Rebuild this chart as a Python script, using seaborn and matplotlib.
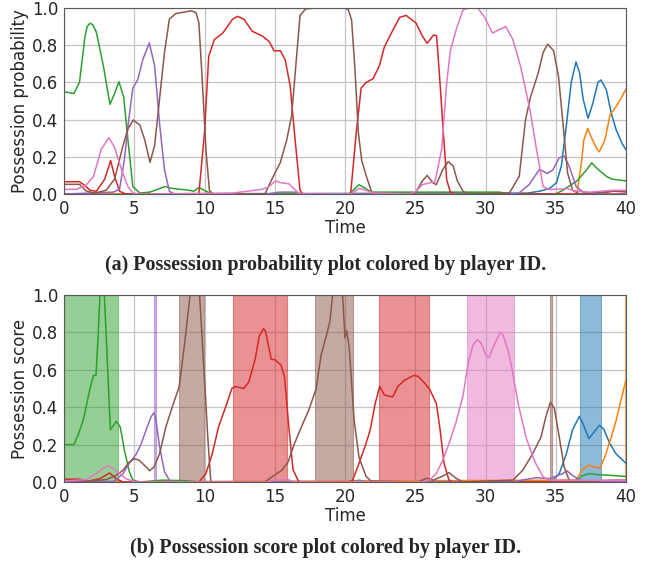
import matplotlib
matplotlib.use("Agg")
import matplotlib.pyplot as plt
import pandas as pd
import seaborn as sns

# ---------------- data: (a) possession probability ----------------
prob_blue_t = [0, 33.0, 33.85, 34.55, 35.05, 35.4, 35.75, 36.1, 36.44, 36.7, 36.95, 37.3, 37.65, 38.0, 38.22, 38.6, 38.95, 39.3, 39.7, 40]
prob_blue_v = [0, 0.005, 0.015, 0.03, 0.06, 0.15, 0.365, 0.6, 0.71, 0.65, 0.51, 0.407, 0.49, 0.6, 0.613, 0.56, 0.435, 0.345, 0.275, 0.237]

prob_orange_t = [0, 36.5, 36.8, 37.0, 37.27, 37.5, 37.9, 38.1, 38.5, 38.86, 39.3, 40]
prob_orange_v = [0, 0, 0.15, 0.29, 0.353, 0.31, 0.245, 0.227, 0.29, 0.425, 0.47, 0.563]

prob_green_t = [0, 0.7, 1.1, 1.5, 1.65, 1.85, 2.05, 2.3, 2.8, 3.27, 3.6, 3.91, 4.25, 4.55, 4.9, 5.4, 6.1, 7.2, 7.7, 8.9, 9.25, 9.6, 10.1, 10.6, 20.3, 21.0, 21.9, 31.0, 31.7, 35.0, 35.5, 36.5, 37.2, 37.56, 37.9, 38.6, 39.0, 40]
prob_green_v = [0.55, 0.54, 0.6, 0.85, 0.9, 0.918, 0.91, 0.87, 0.69, 0.482, 0.54, 0.604, 0.52, 0.29, 0.04, 0.005, 0.01, 0.04, 0.03, 0.02, 0.015, 0.035, 0.015, 0, 0, 0.05, 0.01, 0.01, 0, 0, 0.02, 0.07, 0.13, 0.168, 0.14, 0.095, 0.08, 0.07]

prob_red_t = [0, 1.1, 1.5, 1.85, 2.3, 2.9, 3.32, 3.6, 3.95, 4.4, 9.6, 10.0, 10.3, 10.7, 11.3, 12.0, 12.35, 12.8, 13.4, 14.1, 14.6, 14.95, 15.4, 15.75, 16.1, 16.45, 16.8, 17.0, 20.4, 20.8, 21.15, 21.5, 22.0, 22.45, 22.8, 23.4, 23.9, 24.35, 25.05, 25.5, 25.85, 26.3, 26.52, 26.76, 27.0, 27.24, 27.5, 27.9, 40]
prob_red_v = [0.066, 0.066, 0.045, 0.02, 0.015, 0.08, 0.18, 0.095, 0.015, 0, 0, 0.33, 0.74, 0.83, 0.865, 0.94, 0.955, 0.94, 0.875, 0.85, 0.82, 0.77, 0.77, 0.72, 0.58, 0.29, 0.02, 0, 0, 0.33, 0.57, 0.6, 0.62, 0.69, 0.79, 0.88, 0.95, 0.96, 0.92, 0.85, 0.81, 0.855, 0.85, 0.6, 0.33, 0.075, 0.01, 0, 0]

prob_purple_t = [0, 3.5, 3.95, 4.3, 4.55, 4.9, 5.25, 5.6, 6.07, 6.45, 6.8, 7.15, 7.5, 7.85, 14.5, 15.3, 16.5, 17.0, 32.3, 33.1, 33.85, 34.4, 34.8, 35.25, 35.6, 35.95, 36.45, 36.95, 37.9, 39.1, 40]
prob_purple_v = [0, 0.01, 0.025, 0.185, 0.365, 0.57, 0.615, 0.72, 0.813, 0.69, 0.38, 0.13, 0.015, 0, 0, 0.01, 0.01, 0, 0, 0.05, 0.133, 0.11, 0.13, 0.195, 0.204, 0.15, 0.04, 0.01, 0, 0.015, 0.01]

prob_brown_t = [0, 1.1, 1.6, 2.2, 3.0, 3.6, 4.2, 4.55, 4.93, 5.4, 5.75, 6.12, 6.45, 6.8, 7.15, 7.5, 7.95, 8.7, 9.05, 9.4, 9.6, 9.85, 10.1, 10.35, 10.6, 14.3, 14.8, 15.4, 15.85, 16.2, 16.5, 16.8, 17.2, 17.9, 20.0, 20.24, 20.47, 20.7, 20.95, 21.19, 21.54, 21.9, 22.1, 24.6, 25.05, 25.5, 25.85, 26.25, 26.5, 26.95, 27.35, 27.7, 28.0, 28.4, 28.75, 31.7, 32.4, 32.85, 33.2, 33.75, 34.1, 34.42, 34.85, 35.2, 35.55, 35.85, 36.2, 36.7, 39.1, 40]
prob_brown_v = [0.052, 0.052, 0.015, 0.005, 0.02, 0.08, 0.26, 0.35, 0.398, 0.37, 0.29, 0.17, 0.26, 0.51, 0.76, 0.94, 0.97, 0.98, 0.985, 0.975, 0.92, 0.6, 0.24, 0.02, 0, 0, 0.08, 0.17, 0.29, 0.42, 0.69, 0.96, 0.995, 1.0, 1.0, 0.99, 0.935, 0.68, 0.33, 0.18, 0.09, 0.01, 0, 0, 0.01, 0.07, 0.1, 0.06, 0.05, 0.13, 0.175, 0.15, 0.07, 0.015, 0, 0.005, 0.095, 0.4, 0.52, 0.65, 0.76, 0.806, 0.77, 0.63, 0.35, 0.11, 0.02, 0, 0.015, 0.015]

prob_pink_t = [0, 0.9, 1.6, 2.1, 2.65, 3.2, 3.6, 4.1, 4.55, 4.9, 5.4, 12.0, 14.1, 14.6, 15.05, 15.5, 16.0, 16.35, 16.7, 17.0, 20.4, 21.0, 21.5, 22.0, 24.6, 25.05, 25.5, 26.0, 26.4, 26.88, 27.24, 27.5, 27.9, 28.4, 28.85, 29.45, 29.9, 30.5, 31.0, 31.45, 31.95, 32.5, 33.17, 33.64, 34.1, 34.5, 35.05, 35.75, 36.45, 37.4, 39.1, 40]
prob_pink_v = [0.025, 0.025, 0.05, 0.095, 0.24, 0.303, 0.25, 0.13, 0.04, 0.005, 0, 0.005, 0.025, 0.04, 0.07, 0.06, 0.055, 0.03, 0.005, 0, 0, 0.03, 0.02, 0.005, 0, 0.015, 0.05, 0.06, 0.065, 0.24, 0.6, 0.77, 0.88, 0.99, 1.0, 1.0, 0.955, 0.865, 0.885, 0.9, 0.83, 0.685, 0.45, 0.236, 0.04, 0.025, 0.025, 0.03, 0.015, 0.01, 0.02, 0.02]

# ---------------- data: (b) possession score ----------------
score_blue_t = [0, 34.5, 34.8, 35.25, 35.75, 36.2, 36.68, 36.95, 37.35, 37.65, 38.1, 38.4, 38.85, 39.3, 40]
score_blue_v = [0, 0, 0.01, 0.045, 0.15, 0.28, 0.351, 0.31, 0.232, 0.26, 0.303, 0.285, 0.205, 0.15, 0.1]

score_orange_t = [0, 36.45, 36.95, 37.37, 37.75, 38.15, 38.5, 38.95, 39.3, 39.65, 40]
score_orange_v = [0, 0.01, 0.07, 0.09, 0.08, 0.075, 0.135, 0.24, 0.33, 0.44, 0.547]

score_green_t = [0, 0.7, 1.0, 1.4, 1.85, 2.1, 2.28, 2.44, 2.56, 2.72, 2.87, 3.04, 3.3, 3.5, 3.72, 4.0, 4.3, 4.65, 4.9, 5.4, 7.0, 8.7, 9.6, 20.5, 21.0, 21.5, 36.0, 36.45, 36.95, 37.4, 37.9, 40]
score_green_v = [0.2, 0.2, 0.25, 0.34, 0.5, 0.57, 0.57, 0.8, 1.0, 1.1, 1.0, 0.72, 0.28, 0.3, 0.325, 0.295, 0.17, 0.055, 0.01, 0, 0.01, 0.007, 0, 0, 0.01, 0, 0, 0.01, 0.035, 0.045, 0.04, 0.03]

score_red_t = [0, 1.1, 1.7, 2.55, 3.25, 3.7, 4.2, 9.6, 10.1, 10.55, 11.0, 11.5, 11.95, 12.2, 12.8, 13.15, 13.6, 13.9, 14.2, 14.35, 14.75, 15.0, 15.45, 15.7, 15.97, 16.3, 16.65, 16.8, 20.3, 20.55, 21.0, 21.45, 21.8, 22.15, 22.47, 22.8, 23.4, 23.75, 24.25, 24.9, 25.2, 25.65, 26.03, 26.5, 26.75, 27.05, 27.4, 27.65, 40]
score_red_v = [0.015, 0.015, 0.004, 0.018, 0.048, 0.018, 0, 0, 0.045, 0.15, 0.295, 0.4, 0.5, 0.51, 0.5, 0.535, 0.655, 0.78, 0.82, 0.805, 0.655, 0.655, 0.625, 0.56, 0.32, 0.066, 0.01, 0, 0, 0.01, 0.1, 0.195, 0.28, 0.42, 0.512, 0.465, 0.455, 0.51, 0.545, 0.57, 0.565, 0.53, 0.495, 0.42, 0.29, 0.1, 0.01, 0, 0]

score_purple_t = [0, 3.5, 3.7, 4.2, 4.65, 5.15, 5.5, 5.85, 6.2, 6.4, 6.55, 6.8, 7.15, 7.5, 7.7, 32.0, 32.6, 33.6, 34.55, 35.5, 35.8, 36.2, 36.7, 37.2, 40]
score_purple_v = [0.003, 0.003, 0.01, 0.045, 0.1, 0.15, 0.205, 0.28, 0.35, 0.37, 0.33, 0.19, 0.055, 0.01, 0, 0, 0.01, 0.023, 0.018, 0.045, 0.06, 0.035, 0.01, 0, 0.005]

score_brown_t = [0, 1.6, 3.0, 3.7, 4.2, 4.65, 5.0, 5.35, 5.85, 6.1, 6.4, 6.8, 7.25, 7.7, 8.2, 8.6, 8.97, 9.3, 9.65, 10.0, 10.25, 10.45, 14.3, 14.8, 15.5, 15.95, 16.4, 16.9, 17.45, 17.95, 18.3, 18.7, 18.93, 19.12, 19.45, 19.83, 20.0, 20.12, 20.3, 20.65, 21.0, 21.5, 21.85, 25.2, 25.8, 26.3, 26.9, 27.4, 27.9, 28.4, 31.95, 32.65, 33.35, 33.95, 34.3, 34.62, 34.9, 35.25, 35.6, 35.95, 36.3, 39.0, 40]
score_brown_v = [0.01, 0.004, 0.013, 0.035, 0.063, 0.107, 0.125, 0.116, 0.08, 0.06, 0.08, 0.15, 0.295, 0.4, 0.51, 0.75, 1.0, 1.2, 1.0, 0.55, 0.22, 0, 0, 0.027, 0.063, 0.107, 0.205, 0.295, 0.39, 0.5, 0.68, 0.79, 0.86, 1.0, 1.3, 1.0, 0.77, 0.81, 0.72, 0.33, 0.13, 0.03, 0.005, 0, 0.02, 0.01, 0.03, 0.05, 0.02, 0, 0.01, 0.063, 0.15, 0.24, 0.35, 0.426, 0.395, 0.24, 0.08, 0.01, 0, 0.01, 0.01]

score_pink_t = [0, 1.6, 2.3, 2.8, 3.15, 3.5, 3.95, 4.4, 4.9, 5.4, 14.5, 15.0, 15.95, 16.4, 20.5, 21.0, 21.6, 25.5, 26.0, 26.5, 26.95, 27.45, 27.9, 28.4, 28.75, 29.1, 29.42, 29.7, 30.05, 30.27, 30.65, 31.05, 31.25, 31.6, 31.9, 32.35, 32.9, 33.5, 34.1, 34.55, 40]
score_pink_v = [0.005, 0.013, 0.045, 0.075, 0.086, 0.072, 0.045, 0.018, 0.004, 0, 0, 0.01, 0.013, 0, 0, 0.005, 0, 0, 0.01, 0.045, 0.115, 0.215, 0.32, 0.46, 0.63, 0.73, 0.763, 0.74, 0.675, 0.668, 0.74, 0.8, 0.785, 0.705, 0.6, 0.41, 0.235, 0.11, 0.027, 0.01, 0.008]

# shaded possession intervals in (b)
span_start = [0.0, 6.43, 8.2, 12.0, 17.9, 22.4, 28.7, 34.58, 36.7, 39.95]
span_end = [3.85, 6.58, 9.95, 15.85, 20.6, 26.0, 32.05, 34.76, 38.25, 40.0]
span_player = ["green", "purple", "brown", "red", "brown", "red", "pink", "brown", "blue", "orange"]

players = ["blue", "orange", "green", "red", "purple", "brown", "pink"]
captions = ["(a) Possession probability plot colored by player ID.",
            "(b) Possession score plot colored by player ID."]
ylabels = ["Possession probability", "Possession score"]
xticks = [0, 5, 10, 15, 20, 25, 30, 35, 40]
yticks = [0.0, 0.2, 0.4, 0.6, 0.8, 1.0]

prob_series = [("blue", prob_blue_t, prob_blue_v), ("orange", prob_orange_t, prob_orange_v),
               ("green", prob_green_t, prob_green_v), ("red", prob_red_t, prob_red_v),
               ("purple", prob_purple_t, prob_purple_v), ("brown", prob_brown_t, prob_brown_v),
               ("pink", prob_pink_t, prob_pink_v)]
score_series = [("blue", score_blue_t, score_blue_v), ("orange", score_orange_t, score_orange_v),
                ("green", score_green_t, score_green_v), ("red", score_red_t, score_red_v),
                ("purple", score_purple_t, score_purple_v), ("brown", score_brown_t, score_brown_v),
                ("pink", score_pink_t, score_pink_v)]


def to_long(series):
    return pd.concat([pd.DataFrame({"Time": t, "value": v, "player": p}) for p, t, v in series],
                     ignore_index=True)


df_prob = to_long(prob_series)
df_score = to_long(score_series)

sns.set_style("whitegrid", {"axes.edgecolor": "0.35", "grid.color": "#c4c4c4",
                            "axes.linewidth": 0.9})
plt.rcParams["font.family"] = ["DejaVu Sans"]

tab = sns.color_palette("tab10")
pal = dict(zip(players, tab[:7]))

fig = plt.figure(figsize=(6.62, 5.69), dpi=100)
W, H = 662, 569
ax1 = fig.add_axes([64 / W, 1 - 194 / H, 562 / W, 186 / H])
ax2 = fig.add_axes([64 / W, 1 - 482 / H, 562 / W, 187 / H])

for s0, s1, p in zip(span_start, span_end, span_player):
    ax2.axvspan(s0, s1, color=pal[p], alpha=0.5, lw=0.8, zorder=1)

for ax, df, yl in [(ax1, df_prob, ylabels[0]), (ax2, df_score, ylabels[1])]:
    sns.lineplot(data=df, x="Time", y="value", hue="player", hue_order=players, palette=pal,
                 estimator=None, sort=False, legend=False, lw=1.1, ax=ax, zorder=2)
    ax.set_xlim(0, 40)
    ax.set_ylim(0, 1.0)
    ax.set_xticks(xticks)
    ax.set_yticks(yticks)
    ax.set_yticklabels([f"{v:.1f}" for v in yticks])
    ax.tick_params(labelsize=12, length=0, pad=4)
    ax.set_xlabel("Time", fontsize=12, labelpad=1)
    ax.set_ylabel(yl, fontsize=12, labelpad=2)
    ax.grid(True, lw=0.9)
    for sp in ax.spines.values():
        sp.set_visible(True)

fig.text(0.492, 1 - 265 / H, captions[0], ha="center", va="center", fontsize=14.4,
         fontweight="bold", family=["Liberation Serif", "DejaVu Serif"])
fig.text(0.492, 1 - 548 / H, captions[1], ha="center", va="center", fontsize=14.4,
         fontweight="bold", family=["Liberation Serif", "DejaVu Serif"])

fig.savefig("out.png", dpi=100)
